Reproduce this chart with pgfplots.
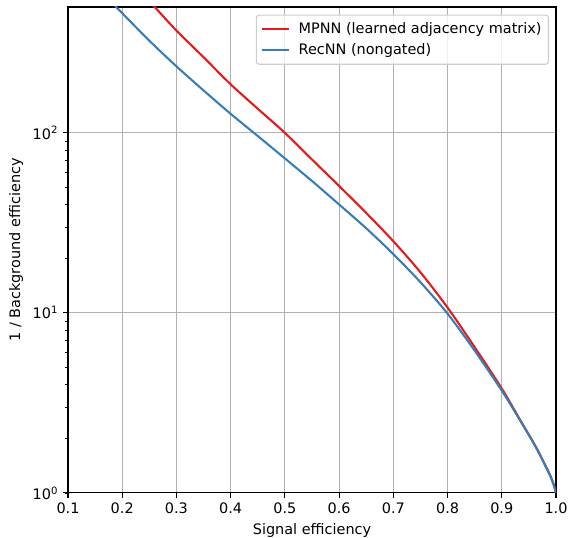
\documentclass[border=0pt]{standalone}
\usepackage{fontspec}
\setmainfont{DejaVu Sans}
\usepackage{pgfplots}
\pgfplotsset{compat=1.18}
\definecolor{mred}{HTML}{E41A1C}
\definecolor{mblue}{HTML}{377EB8}
\definecolor{gridgray}{HTML}{B0B0B0}
\definecolor{legframe}{HTML}{CCCCCC}
\newcommand{\fs}{\fontsize{10.4}{12.5}\selectfont}
\begin{document}
\begin{tikzpicture}
\begin{axis}[
  width=351.4pt, height=349.9pt, scale only axis,
  ymode=log, xmin=0.1, xmax=1.0, ymin=1, ymax=500,
  xtick={0.1,0.2,0.3,0.4,0.5,0.6,0.7,0.8,0.9,1.0},
  xticklabels={0.1,0.2,0.3,0.4,0.5,0.6,0.7,0.8,0.9,1.0},
  ytick={1,10,100},
  yticklabels={10\textsuperscript{0},10\textsuperscript{1},10\textsuperscript{2}},
  grid=major, major grid style={gridgray, line width=0.8pt},
  tick align=outside, tick pos=left,
  major tick length=3.5pt, minor tick length=2pt,
  every major tick/.style={black, line width=0.8pt},
  every minor tick/.style={black, line width=0.6pt},
  axis line style={line width=0.8pt},
  tick label style={font=\fs},
  label style={font=\fs},
  xlabel={Signal efficiency}, ylabel={1 / Background efficiency},
  legend cell align=left,
  legend style={at={(1,1)}, xshift=-5pt, yshift=-5.5pt, anchor=north east,
    draw=legframe, line width=0.8pt, rounded corners=2pt, fill=white, fill opacity=0.8, text opacity=1,
    font=\fs, inner xsep=3pt, inner ysep=3.5pt, row sep=1.5pt, column sep=4pt},
  legend image code/.code={\draw[#1, line width=1.5pt] (0pt,0pt) -- (20pt,0pt);},
]
\coordinate (SW) at (rel axis cs:0,0);
\coordinate (NE) at (rel axis cs:1,1);
\addplot[mred, line width=1.5pt, smooth] coordinates {
(0.25,545) (0.26,500) (0.30,370) (0.35,263) (0.40,186) (0.45,136) (0.50,100)
(0.55,71.1) (0.60,50.7) (0.65,35.9) (0.70,25.0) (0.75,16.8) (0.80,10.7)
(0.85,6.45) (0.90,3.8) (0.934,2.54) (0.963,1.80) (0.982,1.39) (0.99,1.24) (0.995,1.13) (0.998,1.06) (1.0,1.0)
};
\addlegendentry{MPNN (learned adjacency matrix)}
\addplot[mblue, line width=1.5pt, smooth] coordinates {
(0.18,550) (0.189,500) (0.20,462) (0.25,325) (0.30,234) (0.35,172) (0.40,127.5) (0.45,96)
(0.50,72.1) (0.55,54.0) (0.60,40.0) (0.65,29.5) (0.70,21.2) (0.75,14.8) (0.80,9.9)
(0.85,6.17) (0.90,3.7) (0.934,2.52) (0.963,1.79) (0.982,1.38) (0.99,1.23) (0.995,1.12) (0.998,1.05) (1.0,1.0)
};
\addlegendentry{RecNN (nongated)}
\end{axis}
\pgfresetboundingbox
\path ([xshift=-48.96pt,yshift=-32.4pt]SW) rectangle ([xshift=8.64pt,yshift=5.04pt]NE);
\end{tikzpicture}
\end{document}
